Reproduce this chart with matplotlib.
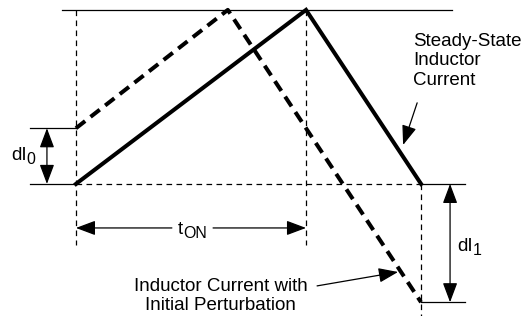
import matplotlib.pyplot as plt
from matplotlib.patches import FancyArrowPatch

# time in units of t_on, current normalised to the peak
steady_t = [0.0, 1.0, 1.5]
steady_i = [0.0, 1.0, 0.0]
perturbed_t = [0.0, 0.66, 1.5]
perturbed_i = [0.32, 1.0, -0.68]

t_on = 1.0
t_end = 1.5
dI0 = 0.32
dI1 = -0.68

plt.rcParams['font.family'] = ['Liberation Sans', 'DejaVu Sans']

fig = plt.figure(figsize=(5.23, 3.16), dpi=100)
ax = fig.add_axes([0, 0, 1, 1])
ax.set_xlim(-0.330, 1.943)
ax.set_ylim(-0.759, 1.057)
ax.axis('off')

thin = dict(color='black', lw=0.9)
thin_dash = dict(color='black', lw=0.9, dashes=(4.5, 3.5))

# reference lines
ax.plot([-0.06, 1.635], [1.0, 1.0], **thin)
ax.plot([-0.20, 0.0], [0.0, 0.0], **thin)
ax.plot([-0.20, 0.0], [dI0, dI0], **thin)
ax.plot([t_end, 1.69], [0.0, 0.0], **thin)
ax.plot([t_end, 1.69], [dI1, dI1], **thin)
ax.plot([0.0, t_end], [0.0, 0.0], **thin_dash)
ax.plot([0.0, 0.0], [1.0, -0.35], **thin_dash)
ax.plot([t_on, t_on], [1.0, -0.35], **thin_dash)
ax.plot([t_end, t_end], [0.0, -0.76], **thin_dash)

# waveforms
ax.plot(steady_t, steady_i, color='black', lw=2.9, solid_joinstyle='miter')
ax.plot(perturbed_t, perturbed_i, color='black', lw=2.9,
        dashes=(2.9, 1.7), dash_capstyle='butt')


def arrow(p0, p1, style):
    ax.add_patch(FancyArrowPatch(p0, p1, arrowstyle=style, mutation_scale=1,
                                 color='black', lw=0.9, shrinkA=0, shrinkB=0))


def label(x, y, main, sub):
    t = ax.text(x, y, main, fontsize=13.5, ha='left', va='baseline')
    ax.annotate(sub, xy=(1, 0), xycoords=t, xytext=(0.3, -2.2),
                textcoords='offset points', fontsize=11.5, ha='left', va='bottom')


both = '<|-|>,head_length=12,head_width=4.5'
one = '-|>,head_length=12,head_width=4.5'

# dI0
arrow((-0.126, 0.0), (-0.126, dI0), both)
label(-0.283, 0.138, 'dI', '0')

# dI1
arrow((1.626, 0.0), (1.626, dI1), both)
label(1.657, -0.385, 'dI', '1')

# t_on
arrow((0.417, -0.253), (0.0, -0.253), one)
arrow((0.596, -0.253), (t_on, -0.253), one)
label(0.443, -0.287, 't', 'ON')

# labels
ax.text(1.465, 0.868, 'Steady-State\nInductor\nCurrent', fontsize=13.5,
        ha='left', va='top', linespacing=1.2)
arrow((1.483, 0.466), (1.422, 0.224), one)

ax.text(0.63, -0.644, 'Inductor Current with\nInitial Perturbation', fontsize=13.5,
        ha='center', va='center', linespacing=1.2)
arrow((1.048, -0.586), (1.40, -0.506), one)

fig.savefig('out.png', dpi=100)
